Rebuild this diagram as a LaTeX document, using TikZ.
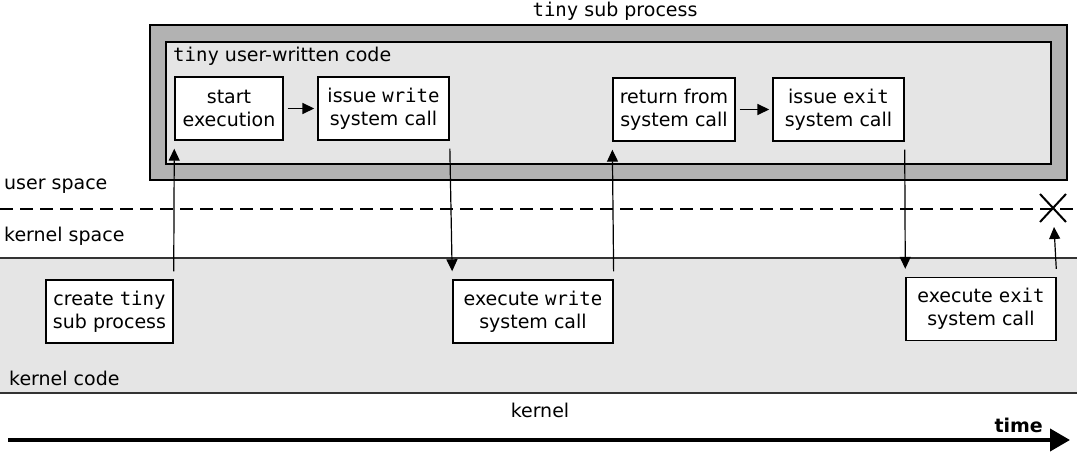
\documentclass[tikz,border=0pt]{standalone}
\usepackage{fontspec}
\setmainfont{DejaVu Sans}
\setmonofont{DejaVu Sans Mono}
\usetikzlibrary{arrows.meta,calc}

\begin{document}
\begin{tikzpicture}[x=1pt,y=-1pt,>={Triangle[length=12pt,width=11pt]},
  txt/.style={font=\fontsize{19}{23}\selectfont,inner sep=0pt},
  stepbox/.style={draw=black,fill=white,line width=1.4pt,align=center,minimum height=63pt,inner sep=0pt,font=\fontsize{19}{23}\selectfont},
  flow/.style={->,line width=1.2pt,shorten >=8pt,shorten <=8pt},
  nxt/.style={->,line width=1.6pt,shorten >=3pt,shorten <=4pt}]
  \useasboundingbox (0,0) rectangle (1077,454);
  % the sub process, drawn as two nested panels
  \draw[fill=black!30,line width=1.4pt] (150,25) rectangle (1067,180);
  \draw[fill=black!10,line width=1.4pt] (166,42) rectangle (1051,164);
  \node[txt] (title) at (615,11) {\texttt{tiny} sub process};
  \node[txt,anchor=west] (code) at (173,56) {\texttt{tiny} user-written code};
  % kernel band
  \fill[black!10] (0,258) rectangle (1077,393);
  \draw[black!80,line width=1.4pt] (0,258) -- (1077,258) (0,393) -- (1077,393);
  \draw[dashed,line width=1.6pt,dash pattern=on 13pt off 7pt] (0,209) -- (1077,209);
  \node[txt,anchor=west] (us) at (4,186) {user space};
  \node[txt,anchor=west] (ks) at (4,236) {kernel space};
  \node[txt,anchor=west] (kc) at (9,378) {kernel code};
  \node[txt] (kern) at (540,410) {kernel};
  % user steps
  \node[stepbox,minimum width=108pt] (start) at (229,108.5) {start\\execution};
  \node[stepbox,minimum width=131pt] (write) at (383.5,108.5) {issue \texttt{write}\\system call};
  \node[stepbox,minimum width=122pt] (ret) at (674,109.5) {return from\\system call};
  \node[stepbox,minimum width=131pt] (exit) at (838.5,109.5) {issue \texttt{exit}\\system call};
  % kernel steps
  \node[stepbox,minimum width=127pt] (create) at (109.5,311.5) {create \texttt{tiny}\\sub process};
  \node[stepbox,minimum width=160pt] (exwrite) at (533,311.5) {execute \texttt{write}\\system call};
  \node[stepbox,minimum width=150pt] (exexit) at (981,309) {execute \texttt{exit}\\system call};
  \draw[nxt] (start) -- (write);
  \draw[nxt] (ret) -- (exit);
  \draw[flow] (create.north east) -- (start.south west);
  \draw[flow] (write.south east) -- (exwrite.north west);
  \draw[flow] (exwrite.north east) -- (ret.south west);
  \draw[flow] (exit.south east) -- (exexit.north west);
  % end of the process
  \coordinate (end) at (1053,208);
  \draw[line width=2pt] ($(end)+(-13,-14)$) -- ($(end)+(13,14)$) ($(end)+(-13,14)$) -- ($(end)+(13,-14)$);
  \draw[flow,shorten >=19pt] (exexit.north east) -- (end);
  % time axis
  \coordinate (t0) at (8,440);
  \coordinate (t1) at (1070,440);
  \draw[-{Triangle[length=20pt,width=22pt]},line width=4pt] (t0) -- (t1);
  \node[txt,font=\fontsize{19}{23}\selectfont\bfseries,anchor=east] (time) at (1043,425) {time};
\end{tikzpicture}
\end{document}
